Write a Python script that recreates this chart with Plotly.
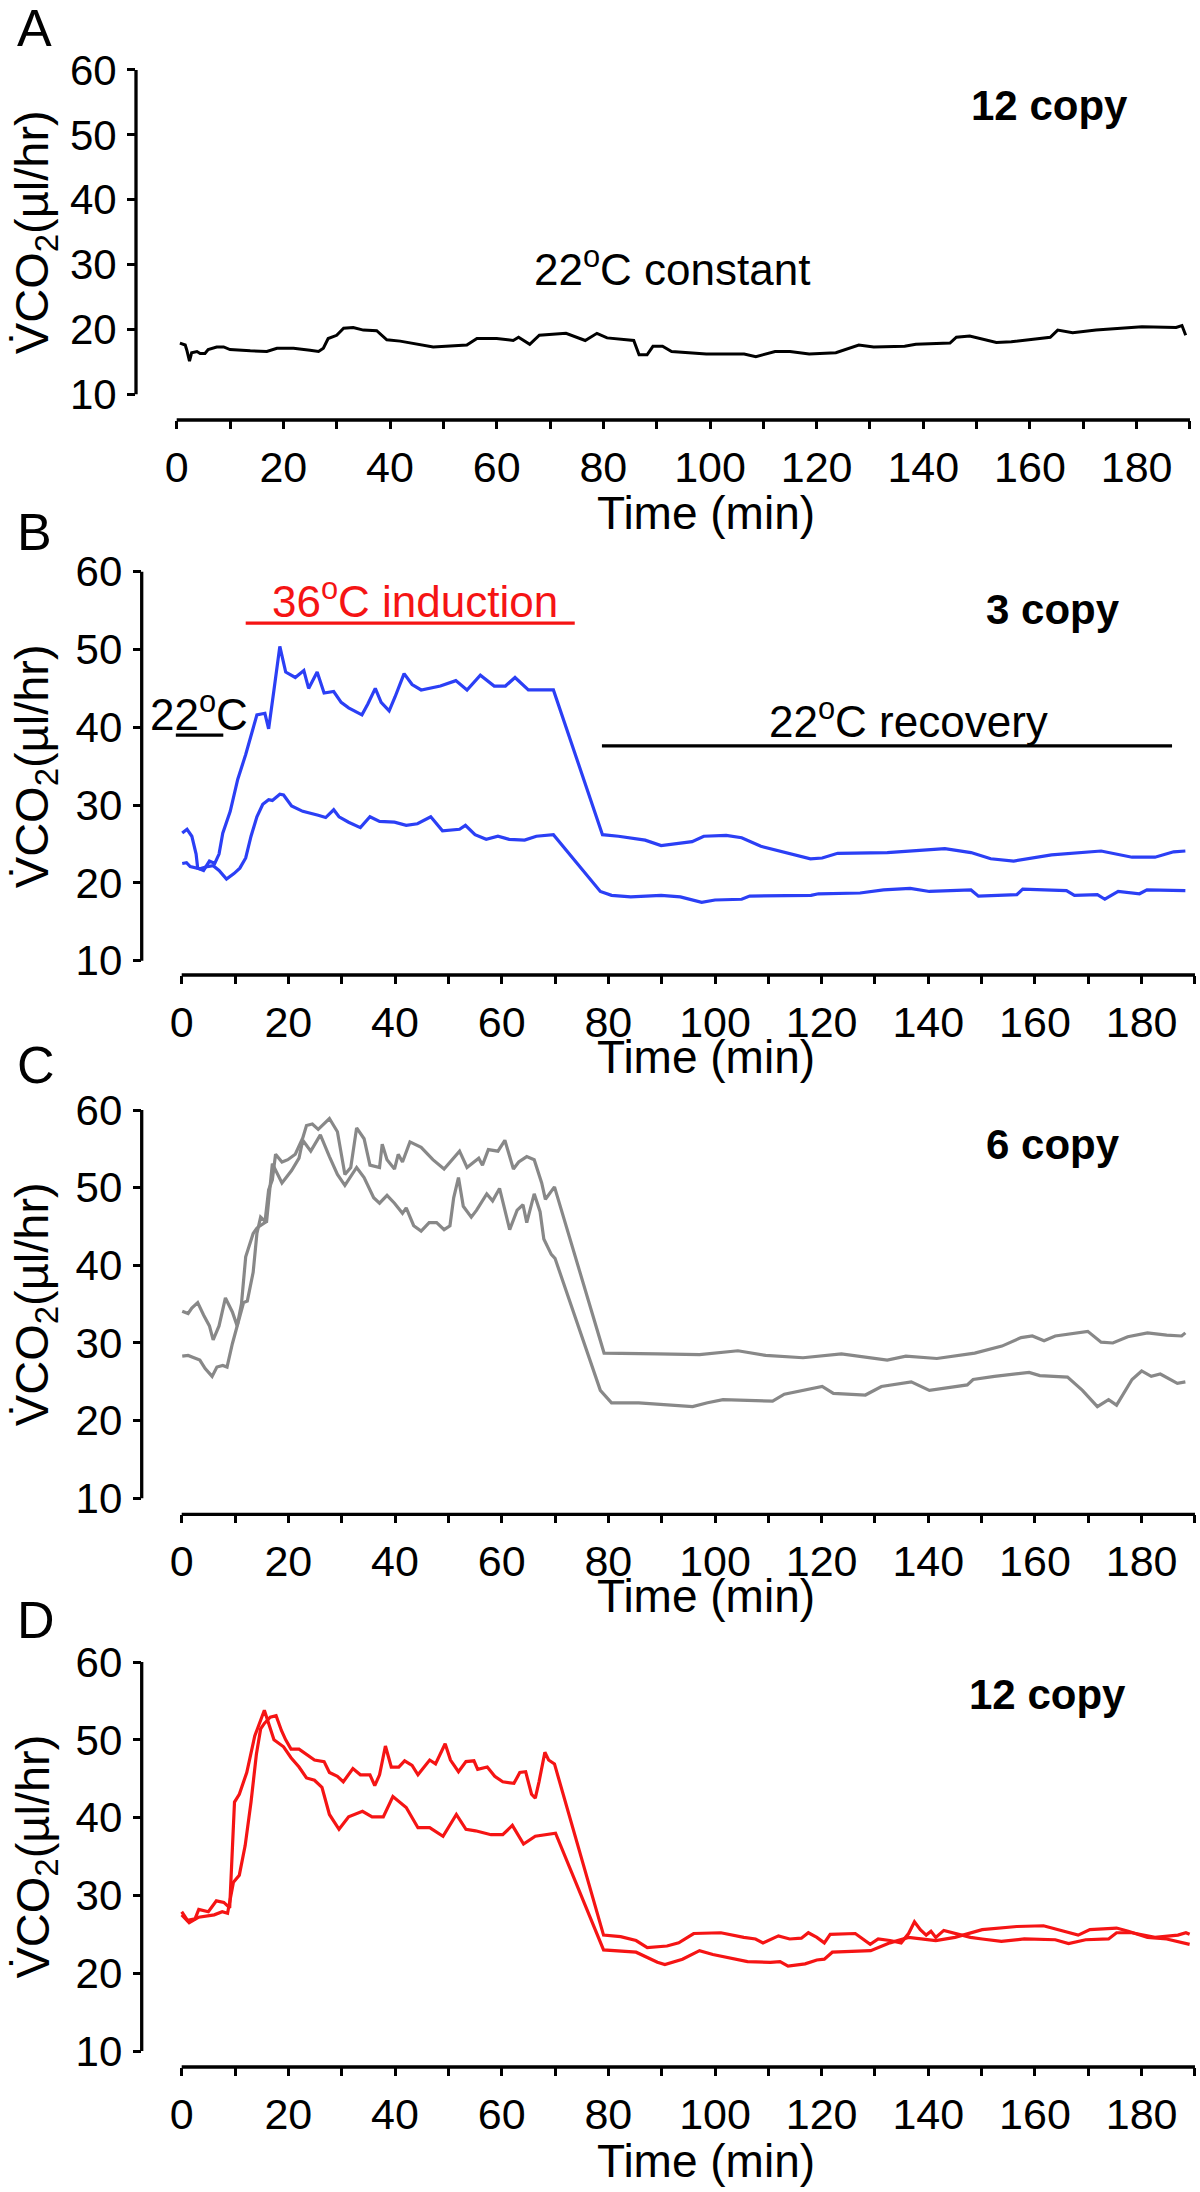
import plotly.graph_objects as go

# ---------------- data ----------------
# Panel A: 12 copy, 22 C constant (black)
A_t = [0.6, 1.6, 1.9, 2.4, 2.8, 3.8, 4.4, 5.3, 5.9, 7.5, 8.8, 10.0, 13.8, 16.9, 18.8, 21.9, 25.0, 26.6, 27.5, 28.4,
       30.0, 31.3, 33.1, 35.0, 37.5, 39.4, 41.9, 48.1, 54.4, 56.3, 60.0, 63.1, 64.1, 66.2, 68.0, 73.0, 76.6, 78.8, 80.7, 85.7,
       86.7, 88.2, 89.3, 91.1, 92.8, 99.3, 106.4, 108.6, 112.2, 115.0, 118.6, 123.6, 127.9, 130.7, 136.5, 138.6, 145.0, 146.2, 148.7, 153.7,
       156.5, 163.8, 165.2, 168.0, 172.4, 181.0, 187.4, 188.5, 189.2]
A_v = [17.9, 17.6, 16.8, 15.1, 16.4, 16.6, 16.3, 16.3, 16.9, 17.3, 17.3, 16.9, 16.7, 16.6, 17.1, 17.1, 16.8, 16.6, 17.1, 18.6,
       19.1, 20.2, 20.3, 19.9, 19.8, 18.4, 18.2, 17.3, 17.6, 18.6, 18.6, 18.3, 18.8, 17.7, 19.1, 19.4, 18.3, 19.4, 18.7, 18.3,
       16.1, 16.1, 17.4, 17.4, 16.6, 16.2, 16.2, 15.8, 16.6, 16.6, 16.2, 16.4, 17.6, 17.3, 17.4, 17.7, 17.9, 18.8, 19.0, 18.0,
       18.1, 18.8, 19.9, 19.5, 19.9, 20.4, 20.3, 20.6, 19.1]

# Panel B: 3 copy (blue)
B1_t = [0.1, 1.0, 1.9, 2.7, 3.0, 4.1, 5.2, 6.2, 7.0, 7.7, 9.1, 10.5, 12.0, 13.0, 14.1, 15.6, 16.3, 17.3, 18.4, 19.5,
        21.3, 22.9, 23.8, 25.4, 26.7, 28.5, 29.9, 31.3, 33.8, 34.9, 36.3, 37.4, 38.9, 40.0, 41.7, 43.2, 44.9, 48.5, 51.4, 53.5,
        56.0, 58.6, 60.7, 62.5, 65.0, 68.6, 69.7, 78.9, 81.9, 86.9, 89.9, 95.7, 97.9, 102.1, 105.0, 108.6, 114.3, 117.9, 120.1, 123.0,
        132.3, 143.1, 148.0, 151.7, 156.0, 163.1, 172.4, 178.2, 182.5, 186.0, 188.2]
B1_v = [26.4, 26.9, 26.0, 23.7, 21.9, 21.6, 22.8, 22.5, 23.7, 26.4, 29.2, 33.3, 36.5, 39.1, 41.6, 41.8, 39.8, 44.8, 50.4, 47.1,
        46.4, 47.3, 45.0, 47.1, 44.4, 44.6, 43.2, 42.5, 41.6, 43.0, 45.0, 43.2, 42.1, 43.9, 46.9, 45.5, 44.8, 45.3, 46.0, 44.8,
        46.7, 45.3, 45.3, 46.4, 44.8, 44.8, 44.8, 26.2, 26.0, 25.5, 24.8, 25.3, 26.0, 26.1, 25.8, 24.7, 23.7, 23.1, 23.2, 23.8,
        23.9, 24.4, 23.9, 23.1, 22.8, 23.6, 24.1, 23.3, 23.3, 24.0, 24.1]
B2_t = [0.1, 0.9, 1.6, 3.4, 4.8, 5.9, 7.0, 8.4, 9.8, 10.9, 12.0, 13.0, 14.1, 15.2, 16.3, 17.0, 18.4, 19.1, 20.6, 22.7,
        25.6, 27.0, 28.5, 29.5, 31.3, 33.5, 35.3, 37.1, 39.9, 42.1, 44.2, 46.7, 48.9, 52.1, 53.2, 55.0, 57.1, 59.3, 61.4, 64.3,
        66.5, 69.7, 78.5, 80.6, 84.2, 89.9, 93.5, 97.5, 100.0, 105.0, 106.5, 118.0, 119.4, 127.2, 131.6, 136.6, 140.2, 148.0, 149.4, 156.6,
        157.7, 165.9, 167.4, 171.7, 173.1, 175.6, 179.6, 181.0, 188.2]
B2_v = [22.5, 22.6, 22.1, 21.8, 22.1, 22.2, 21.6, 20.5, 21.2, 21.9, 23.2, 26.0, 28.5, 30.1, 30.7, 30.6, 31.4, 31.3, 29.9, 29.2,
        28.7, 28.4, 29.4, 28.5, 27.8, 27.1, 28.5, 27.9, 27.8, 27.4, 27.6, 28.5, 26.7, 26.9, 27.4, 26.2, 25.6, 26.0, 25.6, 25.5,
        26.0, 26.2, 18.9, 18.4, 18.2, 18.4, 18.2, 17.5, 17.8, 17.9, 18.3, 18.4, 18.6, 18.7, 19.1, 19.3, 18.9, 19.1, 18.3, 18.5,
        19.2, 19.0, 18.4, 18.5, 17.9, 18.9, 18.6, 19.1, 19.0]

# Panel C: 6 copy (grey)
C1_t = [0.1, 1.2, 1.9, 3.0, 4.1, 5.2, 5.9, 7.0, 8.2, 9.5, 10.4, 11.2, 12.0, 13.4, 14.1, 15.6, 16.3, 17.0, 17.6, 18.8,
        19.9, 21.3, 22.7, 23.4, 24.5, 25.6, 27.7, 29.2, 30.6, 31.7, 32.8, 34.2, 35.3, 37.1, 37.6, 38.5, 39.9, 40.6, 41.4, 42.8,
        44.9, 47.1, 49.2, 52.1, 53.5, 55.7, 56.4, 57.5, 59.3, 60.6, 62.2, 63.2, 64.7, 66.1, 67.5, 68.2, 69.9, 79.2, 89.2, 97.1,
        104.3, 109.5, 116.5, 123.7, 132.3, 135.8, 141.6, 148.7, 153.8, 157.4, 159.5, 161.7, 163.8, 168.1, 169.9, 172.4, 174.6, 177.4, 181.1, 184.7,
        187.5, 188.2]
C1_v = [34.1, 33.8, 34.5, 35.2, 33.6, 32.2, 30.4, 32.2, 35.8, 34.0, 32.2, 35.0, 41.1, 44.1, 44.8, 45.5, 49.7, 51.0, 54.3, 53.3,
        53.6, 54.3, 56.4, 58.0, 58.2, 57.5, 58.9, 57.2, 51.7, 52.6, 57.7, 56.3, 52.9, 52.6, 55.6, 53.6, 52.4, 54.3, 53.3, 55.9,
        55.2, 53.6, 52.4, 54.7, 52.6, 53.8, 52.9, 54.9, 54.7, 56.1, 52.4, 53.3, 54.0, 53.6, 50.6, 48.5, 50.1, 28.7, 28.6, 28.5,
        29.0, 28.4, 28.1, 28.6, 27.8, 28.3, 28.0, 28.7, 29.6, 30.7, 30.9, 30.3, 30.9, 31.3, 31.5, 30.1, 30.0, 30.8, 31.3, 31.0,
        30.9, 31.3]
C2_t = [0.1, 1.2, 3.4, 4.4, 5.7, 6.6, 7.7, 8.5, 9.5, 10.4, 11.6, 12.3, 13.4, 14.1, 14.8, 15.9, 17.0, 18.8, 20.6, 22.0,
        22.7, 24.2, 26.0, 27.7, 29.2, 30.6, 32.8, 34.2, 36.0, 37.1, 38.5, 39.9, 41.4, 42.1, 43.5, 44.9, 46.4, 47.8, 49.2, 50.3,
        51.0, 51.9, 52.8, 54.3, 55.3, 57.2, 58.3, 59.6, 61.5, 62.9, 64.0, 64.7, 66.1, 67.2, 67.9, 69.3, 70.0, 78.5, 80.6, 85.7,
        90.8, 95.8, 98.6, 101.5, 110.8, 113.0, 120.1, 122.2, 128.2, 131.2, 136.8, 138.0, 140.2, 147.3, 148.4, 152.4, 158.9, 160.9, 166.1, 168.9,
        171.7, 173.8, 175.3, 178.2, 180.0, 181.8, 183.5, 186.7, 188.2]
C2_v = [28.3, 28.4, 27.8, 26.7, 25.7, 26.9, 27.1, 26.9, 29.9, 32.2, 35.2, 35.4, 39.1, 44.1, 46.2, 45.5, 53.1, 50.6, 52.2, 53.8,
        56.1, 54.7, 56.8, 54.0, 51.7, 50.3, 52.6, 51.3, 48.7, 48.0, 49.0, 48.0, 46.7, 47.4, 45.1, 44.4, 45.5, 45.5, 44.6, 45.1,
        48.7, 51.3, 47.6, 46.2, 47.1, 49.2, 48.3, 49.9, 44.6, 47.1, 47.8, 45.5, 49.2, 46.9, 43.4, 41.4, 40.9, 23.9, 22.3, 22.3,
        22.0, 21.8, 22.3, 22.7, 22.5, 23.4, 24.4, 23.5, 23.3, 24.4, 25.0, 24.6, 23.9, 24.6, 25.3, 25.7, 26.2, 25.8, 25.6, 23.9,
        21.8, 22.7, 22.0, 25.3, 26.4, 25.7, 26.0, 24.8, 25.0]

# Panel D: 12 copy (red)
D1_t = [0, 1.4, 3.2, 6.1, 7.6, 8.6, 9.7, 10.8, 11.9, 13.0, 14.0, 14.8, 15.5, 16.6, 17.7, 18.7, 19.5, 20.5, 22.0, 23.4,
        24.9, 26.7, 27.7, 29.2, 30.3, 32.1, 33.5, 35.3, 36.2, 37.1, 38.2, 39.3, 40.7, 41.8, 43.2, 44.3, 46.5, 47.6, 49.4, 50.4,
        51.9, 53.3, 54.8, 55.5, 57.3, 58.7, 60.2, 62.3, 63.4, 64.5, 65.6, 66.3, 67.0, 68.1, 68.8, 69.9,
        79.1, 82.3, 85.2, 87.3, 91.0, 93.2, 96.0, 101.1, 105.4, 107.6, 109.0, 111.9, 114.0, 116.2, 117.5, 119.1, 120.5, 121.6, 126.3, 129.1,
        130.6, 132.8, 134.9, 136.3, 137.4, 138.5, 139.6, 140.5, 141.4, 142.9, 145.0, 147.9, 150.1, 153.7, 158.0, 163.8, 166.3, 169.5, 173.8, 175.3,
        178.2, 182.5, 186.8, 188.3, 189.0]
D1_v = [27.5, 26.5, 27.2, 27.5, 27.9, 27.7, 31.7, 32.6, 36.4, 42.0, 48.1, 51.4, 52.1, 52.9, 53.1, 51.2, 50.0, 48.8, 48.8, 48.1,
        47.4, 47.2, 45.8, 45.3, 44.6, 46.3, 45.5, 45.5, 44.1, 45.5, 49.2, 46.5, 46.5, 47.3, 46.7, 45.5, 47.4, 46.9, 49.5, 47.4,
        45.9, 47.2, 47.3, 46.2, 46.5, 45.3, 44.6, 44.4, 45.8, 45.9, 43.0, 42.5, 44.6, 48.4, 47.4, 46.9,
        24.9, 24.7, 24.2, 23.3, 23.5, 23.9, 25.1, 25.2, 24.6, 24.4, 23.9, 24.8, 24.4, 24.5, 25.2, 24.6, 23.9, 25.0, 25.1, 23.7,
        24.4, 24.2, 23.9, 25.1, 26.6, 25.6, 24.9, 25.4, 24.6, 25.5, 25.1, 24.6, 24.4, 24.1, 24.4, 24.3, 23.8, 24.3, 24.4, 25.2,
        25.2, 24.6, 24.9, 25.2, 25.0]
D2_t = [0, 1.1, 2.5, 3.2, 5.0, 6.5, 7.9, 9.0, 9.9, 10.8, 12.2, 13.7, 15.5, 16.2, 17.3, 19.1, 20.5, 22.0, 23.4, 24.9,
        26.3, 27.7, 29.5, 31.3, 33.9, 35.7, 37.8, 39.6, 42.1, 44.3, 46.5, 49.0, 51.5, 53.3, 55.1, 58.0, 60.2, 62.0, 64.1, 66.3,
        68.1, 70.1,
        79.1, 85.2, 89.2, 90.6, 93.9, 97.1, 99.6, 106.1, 110.4, 112.2, 113.7, 116.9, 119.1, 120.5, 122.0, 129.2, 132.8, 136.3, 141.4, 145.0,
        150.1, 156.6, 161.6, 165.3, 168.1, 170.3, 175.3, 177.5, 181.1, 184.7, 189.0]
D2_v = [27.9, 26.8, 27.0, 28.2, 27.9, 29.3, 29.1, 28.4, 42.0, 43.0, 45.8, 50.5, 53.8, 52.3, 50.0, 49.1, 47.7, 46.5, 45.1, 44.8,
        43.9, 40.4, 38.5, 40.1, 40.8, 40.1, 40.1, 42.7, 41.3, 38.7, 38.7, 37.6, 40.4, 38.5, 38.3, 37.8, 37.8, 39.0, 36.6, 37.6,
        37.8, 38.0,
        23.0, 22.7, 21.4, 21.1, 21.8, 22.9, 22.4, 21.5, 21.4, 21.5, 20.9, 21.2, 21.7, 21.8, 22.7, 22.9, 23.9, 24.6, 24.2, 24.6,
        25.6, 26.0, 26.1, 25.4, 24.9, 25.6, 25.8, 25.4, 24.6, 24.4, 23.7]

# tick values (labelled every 20 min, minor ticks every 10 min)
x_label_ticks = [0, 20, 40, 60, 80, 100, 120, 140, 160, 180]
x_minor_step = 10
y_ticks = [10, 20, 30, 40, 50, 60]

# protocol periods drawn in panel B (time span, level)
induction_span = [12.0, 73.7]
induction_level = 53.4
pre_span = [-1.1, 7.8]
pre_level = 39.0
recovery_span = [78.8, 185.7]
recovery_level = 37.6

# ---------------- layout ----------------
W, H = 1200, 2192
FONT = "Liberation Sans, Arial, Helvetica, sans-serif"

BLACK = "#000000"
BLUE = "#2b3ff5"
GREY = "#888888"
RED = "#f51414"

panels = [
    dict(letter="A", ylx=136.0, y60=70.0, y10=394.3, xay=420.0, x0=176.7, label="12 copy", lab_r=1130, lab_y=105.5,
         tl_y=513, let_y=28.5,
         series=[(A_t, A_v, BLACK, 3.0)]),
    dict(letter="B", ylx=141.7, y60=571.7, y10=960.7, xay=975.0, x0=181.7, label="3 copy", lab_r=1122, lab_y=609.5,
         tl_y=1057, let_y=532,
         series=[(B1_t, B1_v, BLUE, 3.2), (B2_t, B2_v, BLUE, 3.2)]),
    dict(letter="C", ylx=141.7, y60=1110.0, y10=1498.3, xay=1514.3, x0=181.7, label="6 copy", lab_r=1122, lab_y=1144,
         tl_y=1596, let_y=1065,
         series=[(C1_t, C1_v, GREY, 3.2), (C2_t, C2_v, GREY, 3.2)]),
    dict(letter="D", ylx=141.7, y60=1662.0, y10=2051.0, xay=2067.0, x0=181.7, label="12 copy", lab_r=1128, lab_y=1694,
         tl_y=2161, let_y=1620,
         series=[(D1_t, D1_v, RED, 3.2), (D2_t, D2_v, RED, 3.2)]),
]
KX = 5.333  # px per minute
XMAX = 190.6
YMAX = 60.6


def fx(px):
    return px / W


def fy(px):
    return 1 - px / H


fig = go.Figure()
layout = dict(width=W, height=H, margin=dict(l=0, r=0, t=0, b=0, pad=0, autoexpand=False),
              paper_bgcolor="white", plot_bgcolor="white", showlegend=False,
              font=dict(family=FONT, color="black"))
shapes = []
annotations = []

for i, p in enumerate(panels, start=1):
    xs = "" if i == 1 else str(i)
    xname, yname = "x" + xs, "y" + xs
    ky = (p["y10"] - p["y60"]) / 50.0
    xmin = -(p["x0"] - p["ylx"]) / KX
    ymin = 10 - (p["xay"] - p["y10"]) / ky
    layout["xaxis" + xs] = dict(
        domain=[fx(p["ylx"]), fx(p["x0"] + XMAX * KX)], range=[xmin, XMAX], anchor=yname,
        showgrid=False, zeroline=False, showline=False, automargin=False, fixedrange=True,
        ticks="outside", ticklen=8, tickwidth=3, tickcolor="black",
        tickmode="array", tickvals=x_label_ticks,
        minor=dict(tick0=0, dtick=x_minor_step, ticks="outside", ticklen=8, tickwidth=3, tickcolor="black",
                   showgrid=False),
        tickfont=dict(family=FONT, size=43, color="black"), ticklabelstandoff=1)
    layout["yaxis" + xs] = dict(
        domain=[fy(p["xay"]), fy(p["y60"] - (YMAX - 60) * ky)], range=[ymin, YMAX], anchor=xname,
        showgrid=False, zeroline=False, showline=False, automargin=False, fixedrange=True,
        ticks="outside", ticklen=8, tickwidth=3, tickcolor="black",
        tickmode="array", tickvals=y_ticks,
        tickfont=dict(family=FONT, size=42, color="black"), ticklabelstandoff=2)

    for (t, v, col, lw) in p["series"]:
        fig.add_trace(go.Scatter(x=t, y=v, mode="lines", line=dict(color=col, width=lw),
                                 xaxis=xname, yaxis=yname, hoverinfo="skip"))

    # offset spines
    shapes.append(dict(type="line", xref=xname, yref=yname + " domain", x0=0, x1=190, y0=0, y1=0,
                       line=dict(color="black", width=3.3)))
    shapes.append(dict(type="line", xref=xname + " domain", yref=yname, x0=0, x1=0, y0=10, y1=60,
                       line=dict(color="black", width=3.3)))

    # y title
    annotations.append(dict(xref="paper", yref="paper", x=fx(35), y=fy((p["y60"] + p["y10"]) / 2),
                            text="V\u0307CO<sub>2</sub>(\u00b5l/hr)", textangle=-90, showarrow=False,
                            xanchor="center", yanchor="middle", font=dict(family=FONT, size=47, color="black")))
    # x title
    annotations.append(dict(xref="paper", yref="paper", x=fx(705.5), y=fy(p["tl_y"]), text="Time (min)",
                            showarrow=False, xanchor="center", yanchor="middle",
                            font=dict(family=FONT, size=46, color="black")))
    # panel letter
    annotations.append(dict(xref="paper", yref="paper", x=fx(15), y=fy(p["let_y"]), text=p["letter"],
                            showarrow=False, xanchor="left", yanchor="middle",
                            font=dict(family=FONT, size=52, color="black")))
    # copy label
    annotations.append(dict(xref="paper", yref="paper", x=fx(p["lab_r"]), y=fy(p["lab_y"]),
                            text="<b>" + p["label"] + "</b>", showarrow=False, xanchor="right", yanchor="middle",
                            font=dict(family=FONT, size=42, color="black")))

# panel A text
annotations.append(dict(xref="paper", yref="paper", x=fx(672), y=fy(267), text="22<sup>o</sup>C constant",
                        showarrow=False, xanchor="center", yanchor="middle",
                        font=dict(family=FONT, size=44, color="black")))
# panel B protocol marks
annotations.append(dict(xref="paper", yref="paper", x=fx(415), y=fy(598), text="36<sup>o</sup>C induction",
                        showarrow=False, xanchor="center", yanchor="middle",
                        font=dict(family=FONT, size=44, color=RED)))
annotations.append(dict(xref="paper", yref="paper", x=fx(199), y=fy(711), text="22<sup>o</sup>C",
                        showarrow=False, xanchor="center", yanchor="middle",
                        font=dict(family=FONT, size=44, color="black")))
annotations.append(dict(xref="paper", yref="paper", x=fx(908), y=fy(718.5), text="22<sup>o</sup>C recovery",
                        showarrow=False, xanchor="center", yanchor="middle",
                        font=dict(family=FONT, size=44, color="black")))
shapes.append(dict(type="line", xref="x2", yref="y2", x0=induction_span[0], x1=induction_span[1],
                   y0=induction_level, y1=induction_level, line=dict(color=RED, width=3.3)))
shapes.append(dict(type="line", xref="x2", yref="y2", x0=pre_span[0], x1=pre_span[1],
                   y0=pre_level, y1=pre_level, line=dict(color="black", width=3.3)))
shapes.append(dict(type="line", xref="x2", yref="y2", x0=recovery_span[0], x1=recovery_span[1],
                   y0=recovery_level, y1=recovery_level, line=dict(color="black", width=3.3)))

layout["shapes"] = shapes
layout["annotations"] = annotations
fig.update_layout(**layout)
fig.write_html("out.html", config={"displayModeBar": False},
               post_script="document.body.style.margin='0px';document.body.style.padding='0px';")
